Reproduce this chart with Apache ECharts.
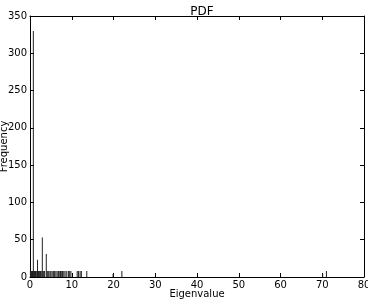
<!DOCTYPE html>
<html><head><meta charset="utf-8">
<script src="https://cdn.jsdelivr.net/npm/echarts@6/dist/echarts.min.js"></script>
<style>html,body{margin:0;padding:0;background:#fff}#c{width:368px;height:303px}</style>
</head><body><div id="c"></div>
<script>
const binPos = [0.1,0.2,0.3,0.4,0.5,0.6,0.8,0.9,1.0,1.1,1.2,1.3,1.4,1.5,1.8,1.9,2.0,2.1,2.3,2.5,2.7,2.95,3.1,3.3,3.5,3.9,4.1,4.3,4.5,4.8,5.0,5.3,5.6,5.9,6.2,6.5,6.8,7.0,7.3,7.6,7.8,8.1,8.4,8.8,9.2,9.5,9.8,11.3,11.6,12.0,12.3,13.6,19.9,22.0,70.1,71.0];
const counts = [8,8,8,8,8,8,330,8,8,8,8,8,8,8,23,8,8,8,8,8,8,53,8,8,8,31,8,8,8,8,8,8,8,8,8,8,8,8,8,8,8,8,8,8,8,8,8,8,8,8,8,8,4,8,4,8];
const xTicks = [0,10,20,30,40,50,60,70,80];
const yTicks = [0,50,100,150,200,250,300,350];
const font = 'DejaVu Sans';
const chart = echarts.init(document.getElementById('c'));
const axisLine = {show:true, onZero:false, lineStyle:{color:'#000', width:1}};
const tick = {show:true, inside:true, length:4, lineStyle:{color:'#000'}};
chart.setOption({
  animation:false,
  title:{text:'PDF', left:197, textAlign:'center', top:1, textStyle:{fontFamily:font, fontSize:12, fontWeight:'normal', color:'#000'}},
  grid:{left:30, right:4, top:16, bottom:26, containLabel:false, outerBoundsMode:'none'},
  xAxis:[{type:'value', min:xTicks[0], max:xTicks[xTicks.length-1], interval:10, position:'bottom',
    name:'Eigenvalue', nameLocation:'middle', nameGap:12, nameMoveOverlap:false,
    nameTextStyle:{fontFamily:font, fontSize:10, color:'#000'},
    axisLine, axisTick:tick, splitLine:{show:false},
    axisLabel:{fontFamily:font, fontSize:10, color:'#000', margin:3}},
   {type:'value', min:0, max:80, interval:10, position:'top', axisLine, axisTick:tick, axisLabel:{show:false}, splitLine:{show:false}}],
  yAxis:[{type:'value', min:yTicks[0], max:yTicks[yTicks.length-1], interval:50, position:'left',
    name:'Frequency', nameLocation:'middle', nameGap:21, nameMoveOverlap:false,
    nameTextStyle:{fontFamily:font, fontSize:10, color:'#000'},
    axisLine, axisTick:tick, splitLine:{show:false},
    axisLabel:{fontFamily:font, fontSize:10, color:'#000', margin:3}},
   {type:'value', min:0, max:350, interval:50, position:'right', axisLine, axisTick:tick, axisLabel:{show:false}, splitLine:{show:false}}],
  series:[{type:'bar', xAxisIndex:0, yAxisIndex:0, barWidth:1,
    itemStyle:{color:'#222'},
    data: binPos.map((x,i)=>[x, counts[i]])}]
});
</script></body></html>
